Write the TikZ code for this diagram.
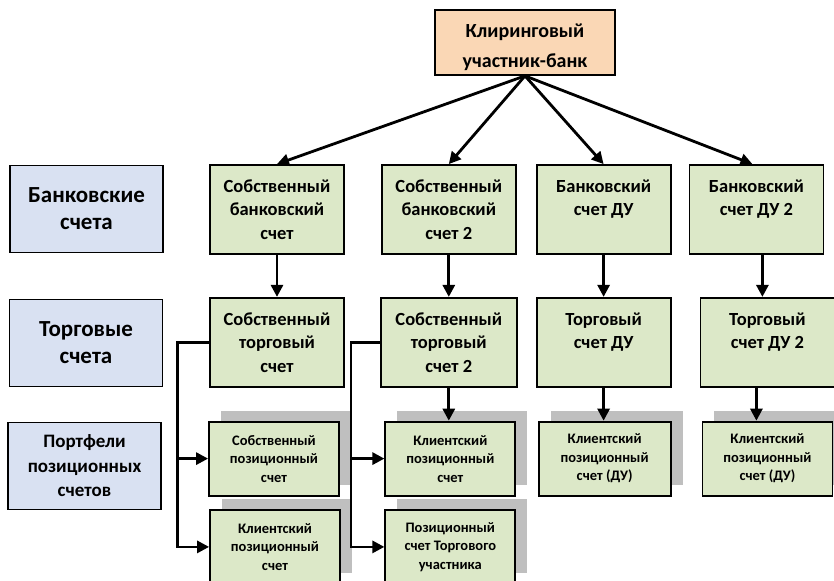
\documentclass[tikz,border=0pt]{standalone}
\usepackage{fontspec}
\setmainfont{Carlito}
\usetikzlibrary{
  arrows.meta,
  positioning,
  shadows
}
\definecolor{PeachFill}{HTML}{FAD7B5}
\definecolor{LeafFill}{HTML}{DCE8C8}
\definecolor{SkyFill}{HTML}{D9E1F2}
\definecolor{ShadeGray}{HTML}{BFBFBF}
\tikzset{
  % Clearing member on top
  head/.style={
    rectangle, draw=black, line width=1.8bp, fill=PeachFill,
    minimum width=180bp, minimum height=65bp, inner sep=0pt,
    align=center, font=\fontsize{20bp}{30bp}\selectfont\bfseries
  },
  % Row caption on the left
  rowlbl/.style={
    rectangle, draw=black, line width=1.8bp, fill=SkyFill,
    minimum width=153bp, minimum height=87bp, inner sep=0pt,
    align=center, font=\fontsize{23bp}{27bp}\selectfont\bfseries
  },
  % Bank / trading account
  acc/.style={
    rectangle, draw=black, line width=1.8bp, fill=LeafFill,
    minimum width=134bp, minimum height=89bp, inner sep=0pt,
    align=center, font=\fontsize{18.5bp}{23.5bp}\selectfont\bfseries
  },
  % Position account with grey shadow
  posacc/.style={
    rectangle, draw=black, line width=1.8bp, fill=LeafFill,
    minimum width=130bp, minimum height=74bp, inner sep=0pt,
    align=center, font=\fontsize{14.5bp}{18.5bp}\selectfont\bfseries,
    drop shadow={shadow xshift=12bp, shadow yshift=11bp, fill=ShadeGray, opacity=1}
  },
  % Arrow
  arr/.style={
    -{Triangle[length=12bp,width=12bp]},
    line width=2.8bp, color=black
  }
}
\begin{document}
\begin{tikzpicture}[x=1bp, y=-1bp]

  \useasboundingbox (0,0) rectangle (834,581);
  \clip (0,0) rectangle (834,581);

  \node[head] (clear) at (525,42.5) {\rule{0pt}{24bp}Клиринговый\\участник-банк};

  % Row captions
  \node[rowlbl] (lblbank)  at (86.5,209) {Банковские\\счета};
  \node[rowlbl] (lbltrade) at (86,343)   {Торговые\\счета};
  \node[rowlbl, font=\fontsize{19bp}{24.5bp}\selectfont\bfseries] (lblport) at (84.5,466) {Портфели\\позиционных\\счетов};

  % Bank accounts
  \node[acc] (bank1) at (277,209.5)           {Собственный\\банковский\\счет};
  \node[acc, right=36bp of bank1] (bank2)     {Собственный\\банковский\\счет 2};
  \node[acc, right=19bp of bank2] (bank3)     {Банковский\\счет ДУ\\~};
  \node[acc, right=17bp of bank3] (bank4)     {Банковский\\счет ДУ 2\\~};

  % Trading accounts
  \node[acc, below=42bp of bank1] (trade1)                     {Собственный\\торговый\\счет};
  \node[acc, minimum width=136bp, below=42bp of bank2] (trade2) {Собственный\\торговый\\счет 2};
  \node[acc, below=42bp of bank3] (trade3)                     {Торговый\\счет ДУ\\~};
  \node[acc, below=42bp of bank4, xshift=11bp] (trade4)        {Торговый\\счет ДУ 2\\~};

  % Position accounts
  \node[posacc, below=33bp of trade1, xshift=-3bp] (pos1)  {Собственный\\позиционный\\счет};
  \node[posacc, below=12.5bp of pos1, xshift=1bp]  (cpos1) {Клиентский\\позиционный\\счет};
  \node[posacc, below=33bp of trade2, xshift=1.5bp] (cpos2) {Клиентский\\позиционный\\счет};
  \node[posacc, below=12.5bp of cpos2]             (tpos2) {Позиционный\\счет Торгового\\участника};
  \node[posacc, minimum width=132bp, below=33bp of trade3, xshift=1bp] (cpos3) {Клиентский\\позиционный\\счет (ДУ)};
  \node[posacc, below=33bp of trade4] (cpos4) {Клиентский\\позиционный\\счет (ДУ)};

  \draw[arr] (clear.south) -- (bank1.north);
  \draw[arr] (clear.south) -- (bank2.north);
  \draw[arr] (clear.south) -- (bank3.north);
  \draw[arr] (clear.south) -- ([xshift=-4bp]bank4.north);

  \draw[arr] (bank1) -- (trade1);
  \draw[arr] (bank2) -- (trade2);
  \draw[arr] (bank3) -- (trade3);
  \draw[arr] ([xshift=6bp]bank4.south) -- ([xshift=6bp]bank4.south |- trade4.north);

  \draw[arr] (trade1.west) -- ++(-32,0) |- (pos1.west);
  \draw[arr] (trade1.west) -- ++(-32,0) |- (cpos1.west);
  \draw[arr] (trade2.west) -- ++(-29,0) |- (cpos2.west);
  \draw[arr] (trade2.west) -- ++(-29,0) |- (tpos2.west);
  \draw[arr] (trade2.south) -- (trade2.south |- cpos2.north);
  \draw[arr] (trade3.south) -- (trade3.south |- cpos3.north);
  \draw[arr] ([xshift=-11bp]trade4.south) -- ([xshift=-11bp]trade4.south |- cpos4.north);

\end{tikzpicture}
\end{document}
